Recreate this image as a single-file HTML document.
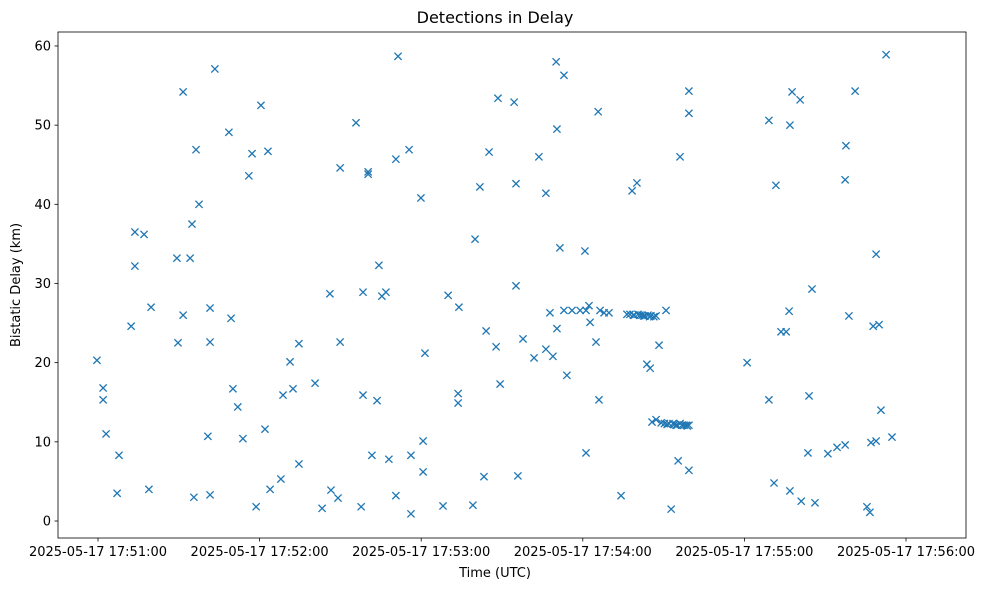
<!DOCTYPE html>
<html><head><meta charset="utf-8"><style>
body{margin:0;background:#fff;}
svg text{font-family:"DejaVu Sans","Liberation Sans",sans-serif;fill:#000;}
</style></head><body>
<svg width="986" height="590" xmlns="http://www.w3.org/2000/svg">
<rect width="986" height="590" fill="#fff"/>
<text x="495" y="23" font-size="16" text-anchor="middle">Detections in Delay</text>
<g id="marks"></g>
<g id="axes"></g>
<rect x="58" y="32" width="908" height="506" fill="none" stroke="#000" stroke-width="0.8"/>
<text x="495" y="577" font-size="13" text-anchor="middle">Time (UTC)</text>
<text x="0" y="0" font-size="13" text-anchor="middle" transform="translate(20,285) rotate(-90)">Bistatic Delay (km)</text>
</svg>
<script>
const timesSec = [-0.4,1.9,1.9,3.0,7.8,7.1,12.3,13.7,13.7,17.1,18.9,19.7,29.3,29.7,31.6,31.6,34.2,34.9,35.6,36.4,37.5,40.8,41.6,41.6,41.6,43.4,48.6,49.4,50.1,51.9,53.8,56.0,57.2,58.7,60.5,62.0,63.1,63.9,67.9,68.7,71.3,72.4,74.6,74.6,80.6,83.2,86.1,86.5,89.1,89.9,89.9,95.8,97.7,98.4,98.4,100.3,100.3,101.7,103.6,104.3,105.4,106.9,108.0,110.6,111.4,110.6,115.5,116.2,116.2,119.9,120.7,120.7,121.4,128.1,130.0,133.7,133.7,134.0,139.2,140.0,141.8,143.3,144.1,145.2,147.8,148.5,149.3,154.5,155.2,155.2,155.9,157.8,161.9,163.7,166.3,166.3,167.8,168.9,170.1,170.4,170.4,171.5,173.0,174.1,173.0,176.0,179.0,181.2,180.8,181.2,182.3,182.7,184.9,185.7,186.4,186.0,187.9,189.7,194.2,196.4,197.5,198.3,199.1,200.1,200.5,202.0,203.1,203.8,204.2,205.0,205.3,205.7,207.2,207.2,208.3,209.1,210.9,212.0,212.8,213.5,214.6,215.4,216.1,216.1,217.6,218.4,219.4,219.4,219.4,219.4,241.0,249.1,249.1,251.0,251.7,253.6,255.5,256.9,256.9,257.7,256.6,260.7,261.1,263.6,264.0,265.1,266.2,271.0,274.4,277.4,277.4,277.7,278.8,281.1,285.5,286.6,287.0,287.8,288.9,288.9,290.0,290.7,292.6,294.8,
 198.8,201.2,202.6,204.8,206.4,210.3,211.3,214.0,215.0,216.8,218.8];
const delayKm = [20.3,16.8,15.3,11.0,8.3,3.5,24.6,36.5,32.2,36.2,4.0,27.0,33.2,22.5,54.2,26.0,33.2,37.5,3.0,46.9,40.0,10.7,26.9,22.6,3.3,57.1,49.1,25.6,16.7,14.4,10.4,43.6,46.4,1.8,52.5,11.6,46.7,4.0,5.3,15.9,20.1,16.7,22.4,7.2,17.4,1.6,28.7,3.9,2.9,22.6,44.6,50.3,1.8,15.9,28.9,44.1,43.8,8.3,15.2,32.3,28.4,28.9,7.8,3.2,58.7,45.7,46.9,8.3,0.9,40.8,10.1,6.2,21.2,1.9,28.5,14.9,16.1,27.0,2.0,35.6,42.2,5.6,24.0,46.6,22.0,53.4,17.3,52.9,42.6,29.7,5.7,23.0,20.6,46.0,41.4,21.7,26.3,20.8,58.0,49.5,24.3,34.5,56.3,18.4,26.6,26.6,26.6,26.6,34.1,8.6,27.2,25.1,22.6,51.7,26.6,15.3,26.3,26.3,3.2,26.1,26.1,41.7,26.0,42.7,26.1,26.0,25.9,19.8,26.0,19.3,25.9,12.5,25.9,12.8,22.2,12.4,26.6,12.3,1.5,12.3,12.1,7.6,12.3,46.0,12.1,12.1,12.1,6.4,54.3,51.5,20.0,15.3,50.6,4.8,42.4,23.9,23.9,3.8,50.0,54.2,26.5,53.2,2.5,8.6,15.8,29.3,2.3,8.5,9.3,9.6,43.1,47.4,25.9,54.3,1.8,1.1,9.9,24.6,33.7,10.1,24.8,14.0,58.9,10.6,
 26.0,26.0,25.9,25.8,25.8,12.3,12.2,12.2,12.1,12.1,12.0];
const yTicks = [0,10,20,30,40,50,60];
const xTickSec = [0,60,120,180,240,300];
const xTickLabels = ["2025-05-17 17:51:00","2025-05-17 17:52:00","2025-05-17 17:53:00","2025-05-17 17:54:00","2025-05-17 17:55:00","2025-05-17 17:56:00"];

const NS="http://www.w3.org/2000/svg";
function xs(t){return 98 + t*161.6/60;}
function ys(k){return 521 - k*7.917;}
const marks=document.getElementById('marks');
const axes=document.getElementById('axes');
for(let i=0;i<timesSec.length;i++){
  const x=xs(timesSec[i]), y=ys(delayKm[i]), r=3.6;
  const p=document.createElementNS(NS,'path');
  p.setAttribute('d',`M${x-r},${y-r}L${x+r},${y+r}M${x-r},${y+r}L${x+r},${y-r}`);
  p.setAttribute('stroke','#1f77b4');p.setAttribute('stroke-width','1.3');p.setAttribute('fill','none');
  
  
  marks.appendChild(p);
}
yTicks.forEach(v=>{
  const y=ys(v);
  const l=document.createElementNS(NS,'line');
  l.setAttribute('x1',58);l.setAttribute('x2',54.5);l.setAttribute('y1',y);l.setAttribute('y2',y);l.setAttribute('stroke','#000');l.setAttribute('stroke-width','0.8');
  
  
  axes.appendChild(l);
  const t=document.createElementNS(NS,'text');
  t.setAttribute('x',51);t.setAttribute('y',y+4.5);t.setAttribute('font-size','13');t.setAttribute('text-anchor','end');
  t.textContent=v;
  
  
  axes.appendChild(t);
});
xTickSec.forEach((s,i)=>{
  const x=xs(s);
  const l=document.createElementNS(NS,'line');
  l.setAttribute('x1',x);l.setAttribute('x2',x);l.setAttribute('y1',538);l.setAttribute('y2',541.5);l.setAttribute('stroke','#000');l.setAttribute('stroke-width','0.8');
  
  
  axes.appendChild(l);
  const t=document.createElementNS(NS,'text');
  t.setAttribute('x',x);t.setAttribute('y',556);t.setAttribute('font-size','13');t.setAttribute('text-anchor','middle');
  t.textContent=xTickLabels[i];
  
  
  axes.appendChild(t);
});
</script>
</body></html>
